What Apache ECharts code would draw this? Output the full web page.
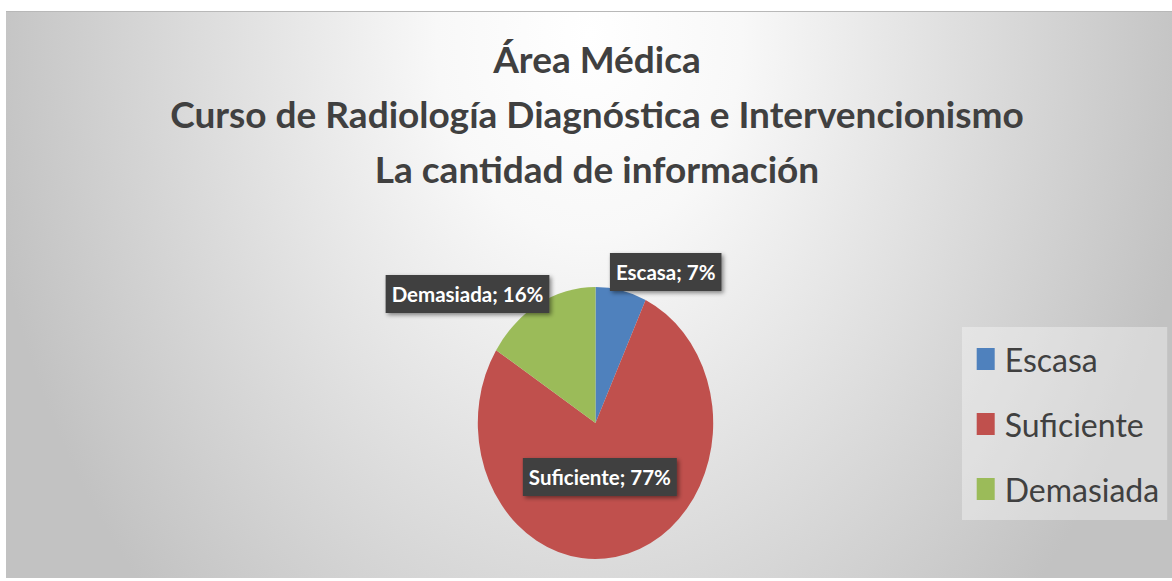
<!DOCTYPE html>
<html>
<head>
<meta charset="utf-8">
<script src="https://cdn.jsdelivr.net/npm/echarts@6/dist/echarts.min.js"></script>
<style>
  html, body { margin: 0; padding: 0; background: #ffffff; width: 1172px; height: 581px; overflow: hidden; }
  #bg {
    position: absolute; left: 6px; top: 11px; width: 1166px; height: 567px;
    background: radial-gradient(ellipse 610px 810px at 50% 4%, #ffffff 0%, #f8f8f8 25%, #c2c2c2 100%);
    border-top: 1px solid #b8b8b8; box-sizing: border-box;
  }
  #pie {
    position: absolute; left: 6px; top: 11px; width: 1166px; height: 491px;
    transform: scaleY(1.155); transform-origin: 0 0;
  }
  #chart { position: absolute; left: 6px; top: 11px; width: 1166px; height: 567px; }
</style>
</head>
<body>
<div id="bg"></div>
<div id="pie"></div>
<div id="chart"></div>
<script>
const titleLines = ['Área Médica', 'Curso de Radiología Diagnóstica e Intervencionismo', 'La cantidad de información'];
const categories = ['Escasa', 'Suficiente', 'Demasiada'];
const values = [7, 77, 16];
const colors = ['#4f81bd', '#c0504d', '#9bbb59'];

// label shifts from the default inside anchor
const labelShift = [[56.7, -90.6], [-12.9, -5.5], [-98.2, -74.9]];

const pieData = categories.map((c, i) => ({ name: c, value: values[i] }));

// Elliptical pie body (stretched vertically like the reference)
const pieChart = echarts.init(document.getElementById('pie'), null, { renderer: 'svg' });
pieChart.setOption({
  backgroundColor: 'transparent',
  animation: false,
  color: colors,
  series: [{
    type: 'pie',
    center: [589.5, 356.7],
    radius: 117.7,
    startAngle: 90,
    clockwise: true,
    silent: true,
    data: pieData,
    label: { show: false },
    labelLine: { show: false }
  }]
});

// Title, legend and data labels (unstretched text)
const chart = echarts.init(document.getElementById('chart'), null, { renderer: 'svg' });
chart.setOption({
  backgroundColor: 'transparent',
  animation: false,
  title: {
    text: titleLines.join('\n'),
    left: 591,
    top: 20,
    padding: 0,
    textAlign: 'center',
    textStyle: { fontFamily: 'Lato', fontWeight: 'bold', fontSize: 37, lineHeight: 55, color: '#404040' }
  },
  legend: {
    orient: 'vertical',
    left: 956,
    top: 316,
    padding: [15, 8, 14, 14.7],
    itemGap: 31,
    itemWidth: 18,
    itemHeight: 22,
    icon: 'rect',
    backgroundColor: 'rgba(255,255,255,0.35)',
    data: categories.map((c, i) => ({ name: c, itemStyle: { color: colors[i], opacity: 1 } })),
    textStyle: { fontFamily: 'Lato', fontSize: 32, lineHeight: 34, color: '#404040', padding: [0, 0, 0, 5] }
  },
  series: [{
    type: 'pie',
    center: [589.5, 412],
    radius: 117.7,
    startAngle: 90,
    clockwise: true,
    silent: true,
    data: pieData,
    itemStyle: { color: 'rgba(0,0,0,0)' },
    label: {
      show: true,
      position: 'inside',
      formatter: '{b}; {c}%',
      fontFamily: 'Lato',
      fontWeight: 'bold',
      fontSize: 20.5,
      lineHeight: 23,
      color: '#ffffff',
      backgroundColor: '#3f3f3f',
      padding: [8, 6, 7, 6],
      shadowColor: 'rgba(0,0,0,0.45)',
      shadowBlur: 4,
      shadowOffsetX: 2,
      shadowOffsetY: 2
    },
    labelLine: { show: false },
    labelLayout: function (p) {
      const s = labelShift[p.dataIndex];
      return { dx: s[0], dy: s[1] };
    }
  }]
});
</script>
</body>
</html>
